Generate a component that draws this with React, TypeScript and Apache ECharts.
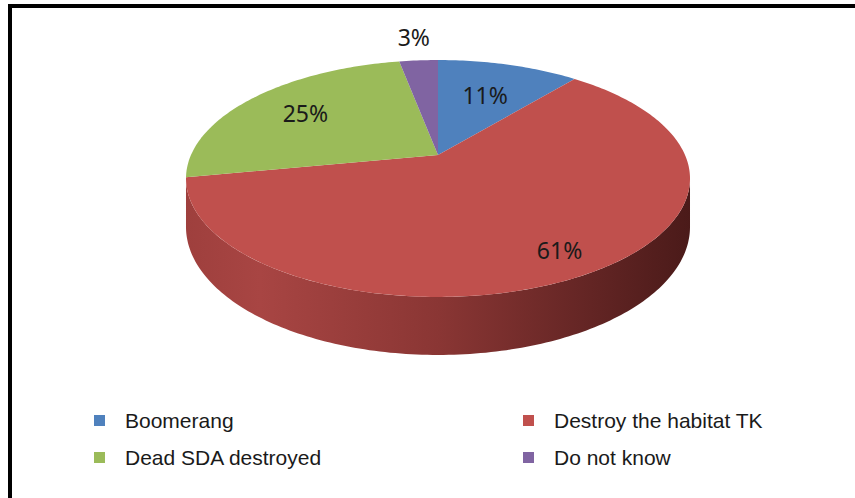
import React, { useEffect, useRef } from "react";
import * as echarts from "echarts";

const CATEGORIES = ["Boomerang", "Destroy the habitat TK", "Dead SDA destroyed", "Do not know"];
const VALUES = [11, 61, 25, 3];
const COLORS = ["#4f81bd", "#c0504d", "#9bbb59", "#8064a2"];
const LABEL_RADIUS = [0.63, 0.83, 0.7, 1.31];
const LEGEND_LEFT = [CATEGORIES[0], CATEGORIES[2]];
const LEGEND_RIGHT = [CATEGORIES[1], CATEGORIES[3]];

// perspective pie geometry
const X0 = 438;
const Y0 = 155;
const A = 247;
const B = 113.8;
const K = 0.1983;
const E = 46.5;

function project(theta: number, f: number, bottom: boolean): number[] {
  const u = f * Math.sin(theta);
  const w = -f * Math.cos(theta);
  const d = 1 - K * w;
  return [X0 + (A * u) / d, Y0 + (B * w + (bottom ? E : 0)) / d];
}

function arcPoints(t1: number, t2: number, bottom: boolean): number[][] {
  const n = Math.max(2, Math.ceil((t2 - t1) / (Math.PI / 180)));
  const pts: number[][] = [];
  for (let i = 0; i <= n; i++) {
    pts.push(project(t1 + ((t2 - t1) * i) / n, 1, bottom));
  }
  return pts;
}

const TOTAL = VALUES.reduce((a, b) => a + b, 0);
const TH_R = Math.acos(-K);
const TH_L = 2 * Math.PI - TH_R;

function makeRender(idx: number) {
  return (params: any, api: any) => {
    const v = api.value(0);
    let before = 0;
    for (let i = 0; i < idx; i++) before += VALUES[i];
    const t1 = (before / TOTAL) * 2 * Math.PI;
    const t2 = ((before + v) / TOTAL) * 2 * Math.PI;
    const children: any[] = [];
    const ta = Math.max(t1, TH_R);
    const tb = Math.min(t2, TH_L);
    if (ta < tb) {
      const topRim = arcPoints(ta, tb, false);
      const botRim = arcPoints(ta, tb, true).reverse();
      children.push({
        type: "polygon",
        shape: { points: topRim.concat(botRim) },
        style: {
          fill: new echarts.graphic.LinearGradient(
            X0 - A * 1.03,
            0,
            X0 + A * 1.03,
            0,
            [
              { offset: 0, color: "#9e3f3d" },
              { offset: 0.15, color: "#a84543" },
              { offset: 0.5, color: "#8a3634" },
              { offset: 0.8, color: "#632524" },
              { offset: 1, color: "#4a1a19" },
            ],
            true
          ),
        },
      });
    }
    const top = [[X0, Y0]].concat(arcPoints(t1, t2, false));
    children.push({
      type: "polygon",
      shape: { points: top },
      style: { fill: COLORS[idx] },
    });
    const mid = (t1 + t2) / 2;
    const lp = project(mid, LABEL_RADIUS[idx], false);
    children.push({
      type: "text",
      x: lp[0],
      y: lp[1],
      style: {
        text: `${v}%`,
        fill: "#1a1a1a",
        fontFamily: "Noto Sans",
        fontSize: 23,
        align: "center",
        verticalAlign: "middle",
      },
    });
    return { type: "group", children };
  };
}

const legendBase = {
  orient: "vertical",
  top: 410,
  padding: 0,
  itemWidth: 11,
  itemHeight: 11,
  itemGap: 16,
  icon: "rect",
  selectedMode: false,
  textStyle: {
    fontFamily: "Liberation Sans",
    fontSize: 21,
    color: "#1a1a1a",
    padding: [0, 0, 0, 15],
  },
};

export default function App() {
  const ref = useRef<HTMLDivElement>(null);
  useEffect(() => {
    if (!ref.current) return;
    const chart = echarts.init(ref.current, null, { renderer: "svg" });
    chart.setOption({
      animation: false,
      backgroundColor: "#ffffff",
      legend: [
        { ...legendBase, left: 94, data: LEGEND_LEFT },
        { ...legendBase, left: 523, data: LEGEND_RIGHT },
      ],
      graphic: [
        { type: "rect", shape: { x: 8, y: 4, width: 4, height: 494 }, style: { fill: "#000" } },
        { type: "rect", shape: { x: 8, y: 4, width: 847, height: 4 }, style: { fill: "#000" } },
      ],
      series: CATEGORIES.map((name, i) => ({
        type: "custom",
        name,
        coordinateSystem: "none",
        itemStyle: { color: COLORS[i] },
        data: [{ value: VALUES[i], name }],
        renderItem: makeRender(i),
      })),
    });
    return () => chart.dispose();
  }, []);
  return (
    <div
      ref={ref}
      style={{ position: "fixed", left: 0, top: 0, width: 855, height: 498 }}
    />
  );
}
